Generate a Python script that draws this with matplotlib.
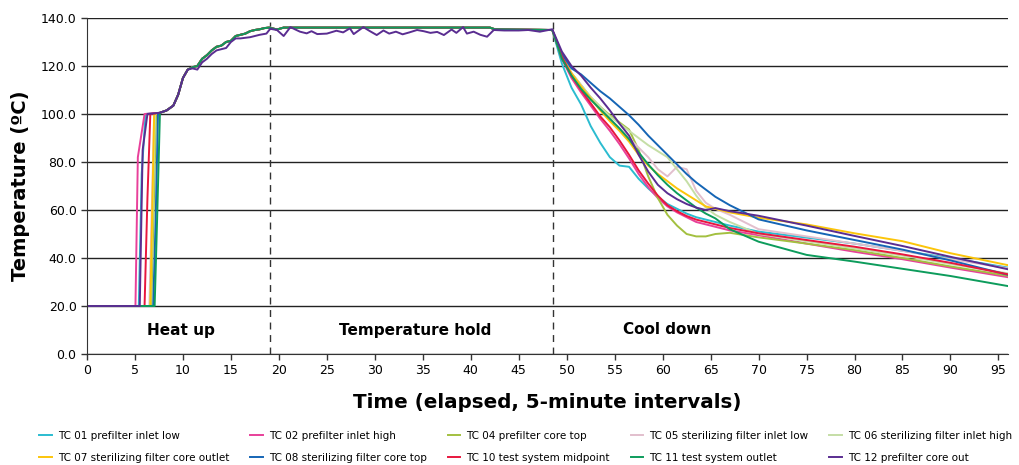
import matplotlib.pyplot as plt
import numpy as np

# series names and colours
names = ["TC 01 prefilter inlet low", "TC 02 prefilter inlet high", "TC 04 prefilter core top",
         "TC 05 sterilizing filter inlet low", "TC 06 sterilizing filter inlet high",
         "TC 07 sterilizing filter core outlet", "TC 08 sterilizing filter core top",
         "TC 10 test system midpoint", "TC 11 test system outlet", "TC 12 prefilter core out"]
colors = ["#2bbcd0", "#e8409a", "#a3c040", "#e2bfcd", "#c5dea6",
          "#fcc50a", "#1565b5", "#e8173e", "#0d9c5c", "#5a2d91"]

# heat up: time each channel leaves 20 C, an intermediate reading, and time it reaches ~100 C
rise_start = [5.4, 5.05, 6.7, 6.5, 6.6, 6.6, 6.9, 6.0, 7.05, 5.5]
rise_mid_t = [5.7, 5.3, 6.95, 6.75, 6.85, 6.8, 7.15, 6.3, 7.3, 5.8]
rise_mid_T = [75, 82, 60, 60, 60, 60, 55, 65, 55, 85]
rise_end = [6.1, 6.0, 7.2, 7.0, 7.1, 7.0, 7.4, 6.6, 7.6, 6.3]

# shared warm-up and hold profile
heat_t = [7.6, 8.3, 9.0, 9.5, 10.0, 10.5, 11.0, 11.5, 12.0, 12.5, 13.0, 13.5, 14.0, 14.5,
          15.0, 15.5, 16.0, 16.5, 17.0, 17.5, 18.0, 18.5, 19.0, 19.8, 20.5, 30.0, 42.0, 42.5, 48.5]
heat_T = [100.5, 101.5, 103.5, 108, 115, 118.5, 119.5, 120, 123, 124.5, 126.5, 128, 128.5, 130,
          130.5, 132.5, 133, 133.5, 134.5, 135, 135.3, 135.8, 136, 135.2, 136, 136, 136, 135.3, 135]

# TC 12 runs a little lower and wobbles during the hold
tc12_heat_t = [7.6, 8.3, 9.0, 9.5, 10.0, 10.5, 11.0, 11.5, 12.0, 12.5, 13.0, 13.5, 14.0, 14.5,
               15.0, 15.5, 16.0, 17.0, 18.0, 18.7, 19.1, 19.8, 20.5, 21.2, 22.2, 22.9, 23.4, 24.0,
               25.0, 26.0, 26.7, 27.4, 27.8, 28.8, 29.5, 30.2, 30.9, 31.5, 32.2, 32.9, 33.6, 34.4,
               35.1, 35.8, 36.5, 37.2, 38.0, 38.5, 39.2, 39.6, 40.3, 41.0, 41.7, 42.4, 43.5, 45.0,
               46.0, 47.2, 48.5]
tc12_heat_T = [100.5, 101.5, 103.5, 108, 115, 118.5, 119, 118.5, 121.5, 123, 125, 126.5, 127, 127.5,
               130, 131.5, 131.5, 132, 133, 133.5, 135.5, 135, 132.5, 136.2, 134.3, 133.6, 134.5, 133.3,
               133.5, 134.7, 134, 135.7, 133.3, 136.2, 134.5, 132.9, 134.8, 133.5, 134.3, 133.2, 134, 135,
               134.5, 133.8, 134.2, 132.9, 135.2, 133.8, 136.2, 133.5, 134.3, 133, 132.2, 135, 134.8, 134.8,
               135, 134.3, 135.3]

# cool down
cool_t = [48.5, 49.5, 50.5, 51.5, 52.5, 53.5, 54.5, 55.5, 56.5, 57.5, 58.5, 59.5, 60.5, 61.5,
          62.5, 63.5, 64.5, 65.5, 67, 70, 75, 80, 85, 90, 96]
tc01_cool = [135, 121, 111, 104, 95, 88, 82, 78.5, 78, 73, 69, 65.5, 62.5, 60.5,
             58.5, 57, 56, 55, 53.5, 51, 48.5, 46, 43, 40, 36]
tc02_cool = [135, 123, 115, 109, 103.5, 98, 93, 87.5, 81.5, 75, 69.5, 65, 61.5, 59,
             57, 55, 54, 53, 51.5, 49.5, 46, 42.6, 39.5, 36, 32]
tc04_cool = [135, 124, 117, 112, 107, 103, 99.5, 96.5, 93.5, 85, 74, 65, 58, 53.5,
             50, 49, 49, 50, 50.5, 48.6, 46, 43.3, 40, 36.5, 32.6]
tc05_cool = [135, 124, 117, 112, 107, 102.5, 98, 94, 90, 86, 82, 77, 74, 78,
             77, 68, 63, 60.5, 58, 52, 49, 46, 43, 39.5, 35.7]
tc06_cool = [135, 124, 117, 112, 107, 103, 99, 96, 93, 90, 87, 84.5, 82, 77,
             72, 66, 61, 58, 55, 50, 47, 44, 41, 37.5, 33.6]
tc07_cool = [135, 124, 117, 111.5, 106.5, 101.5, 97, 93, 88.5, 83, 78.5, 75, 72, 69,
             66.5, 64, 61.5, 60.5, 59, 56.8, 54, 50.3, 47, 42, 37]
tc08_cool = [135, 125, 119, 116.5, 113, 109.5, 106.5, 103, 99.5, 95.5, 91, 87, 83, 79,
             75, 71.5, 68.5, 65.5, 62, 56.1, 51.5, 47.5, 43.5, 39, 33]
tc10_cool = [135, 124, 116, 110, 104.5, 99, 94.5, 89, 83, 76.5, 71, 66, 62, 59.5,
             57.5, 56, 55, 54, 52.5, 50.3, 47.5, 44.7, 41.5, 38, 33.2]
tc11_cool = [135, 123, 116, 110.5, 106, 102, 98, 94, 89.5, 84, 79, 74.5, 70.5, 67,
             64, 61, 58.5, 56.5, 52, 46.8, 41.3, 38.5, 35.5, 32.5, 28.3]
tc12_cool = [135, 126, 120, 116, 111, 106.5, 101.5, 96, 91, 83, 76, 70.5, 67, 64.5,
             62.5, 61, 60, 60.8, 59.5, 57.6, 53.5, 49.2, 45, 40.5, 35.3]
cool_all = [tc01_cool, tc02_cool, tc04_cool, tc05_cool, tc06_cool,
            tc07_cool, tc08_cool, tc10_cool, tc11_cool, tc12_cool]

fig = plt.figure(figsize=(10.19, 4.65), dpi=100)
ax = fig.add_axes([87 / 1019, 1 - 354 / 465, 921 / 1019, 336 / 465])

handles = []
for i, name in enumerate(names):
    if i == 9:
        ht, hT = tc12_heat_t, tc12_heat_T
    else:
        ht, hT = heat_t, heat_T
    t = [0, rise_start[i], rise_mid_t[i], rise_end[i]] + ht + cool_t[1:]
    T = [20, 20, rise_mid_T[i], 100] + hT + cool_all[i][1:]
    ln, = ax.plot(t, T, color=colors[i], lw=1.4, label=name)
    handles.append(ln)

# phase separators
for xv in [19.05, 48.6]:
    ax.axvline(xv, color="#333333", lw=1, ls=(0, (5, 4)), zorder=1)

ax.text(9.8, 10, "Heat up", ha="center", va="center", fontsize=11, fontweight="bold")
ax.text(34.2, 10, "Temperature hold", ha="center", va="center", fontsize=11, fontweight="bold")
ax.text(60.5, 10, "Cool down", ha="center", va="center", fontsize=11, fontweight="bold")

ax.set_xlim(0, 96)
ax.set_ylim(0, 140)
ax.set_xticks(np.arange(0, 96, 5))
ax.set_yticks(np.arange(0, 141, 20))
ax.set_yticklabels([f"{v:.1f}" for v in np.arange(0, 141, 20)])
ax.tick_params(labelsize=9, length=4, width=1, color="#333333")
ax.yaxis.grid(True, color="#222222", lw=1)
ax.set_axisbelow(True)
for s in ["top", "right"]:
    ax.spines[s].set_visible(False)
ax.spines["left"].set_color("#333333")
ax.spines["bottom"].set_color("#333333")

ax.set_xlabel("Time (elapsed, 5-minute intervals)", fontsize=14.3, fontweight="bold", labelpad=11)
ax.set_ylabel("Temperature (ºC)", fontsize=14, fontweight="bold", labelpad=8)

order = [0, 5, 1, 6, 2, 7, 3, 8, 4, 9]
fig.legend([handles[k] for k in order], [names[k] for k in order], ncol=5,
           loc="lower center", bbox_to_anchor=(0.516, -0.016), frameon=False, fontsize=7.5,
           handlelength=1.2, columnspacing=2.0, handletextpad=0.6, labelspacing=1.15)

fig.savefig("out.png", dpi=100)
